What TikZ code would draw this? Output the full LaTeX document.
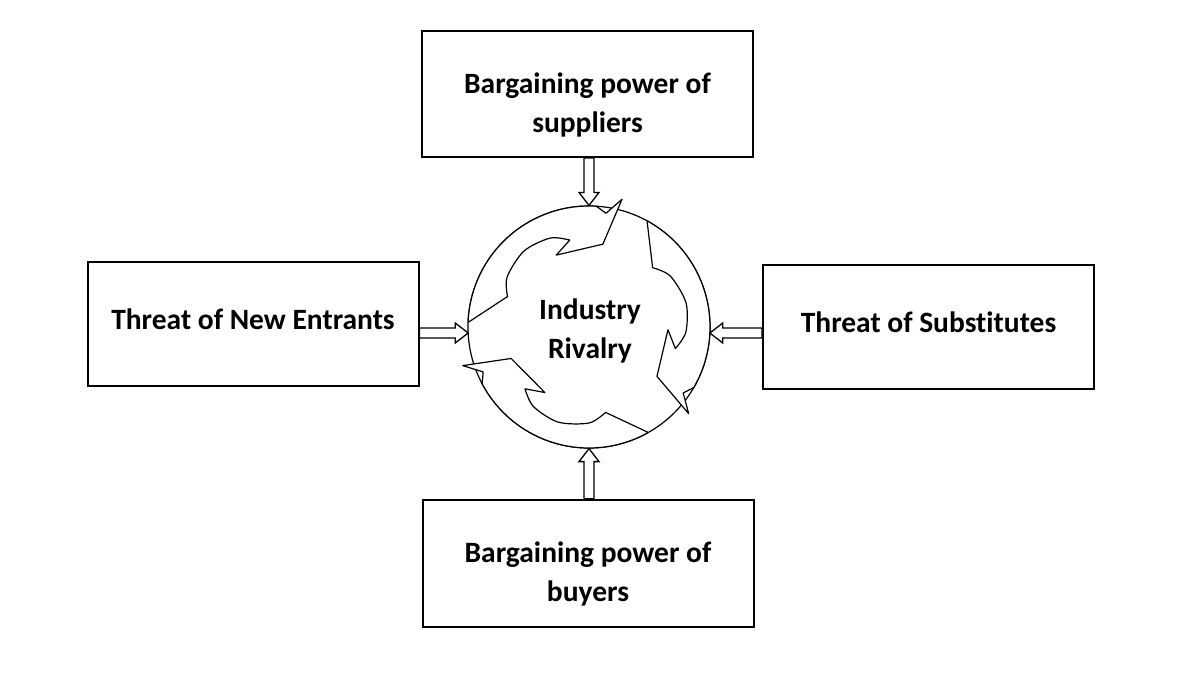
\documentclass[tikz,border=0pt]{standalone}
\usepackage{fontspec}
\setmainfont[Ligatures=NoCommon]{Carlito}
\usetikzlibrary{calc}
\tikzset{
  box/.style={draw, line width=2pt, minimum width=331pt, minimum height=125pt, inner sep=0pt},
  lbl/.style={font={\bfseries\fontsize{29.5}{39}\selectfont}, align=center, inner sep=0pt},
  blk/.style={draw, line width=1.3pt, fill=white, line join=miter},
  rivarr/.style={draw, fill=white, line width=1.2pt, line join=round},
  rivc/.style={circle, draw, line width=1.2pt, minimum size=242pt, inner sep=0pt}
}
\newcommand\blkarrow[2]{%
  \coordinate (bh) at ($(#2)!13pt!(#1)$);
  \draw[blk] ($(#1)!5pt!90:(#2)$) -- ($(bh)!5pt!90:(#2)$) -- ($(bh)!10pt!90:(#2)$)
    -- (#2) -- ($(bh)!10pt!-90:(#2)$) -- ($(bh)!5pt!-90:(#2)$) -- ($(#1)!5pt!-90:(#2)$) -- cycle;}
\newcommand\rivarrow[1]{%
  \filldraw[rivarr, shift={(riv.center)}] ({#1+181}:120) -- ({#1+199}:87)
    -- plot[smooth] coordinates {({#1+199}:87) ({#1+210}:96) ({#1+228}:100) ({#1+245}:97) ({#1+256}:89)}
    -- ({#1+244}:79) -- ({#1+278}:84) -- ({#1+283}:132) -- ({#1+277}:115) -- ({#1+272}:121)
    arc[start angle={#1+272}, end angle={#1+181}, radius=121] -- cycle;}
\begin{document}
\begin{tikzpicture}[x=1pt, y=-1pt]
  \useasboundingbox (0,0) rectangle (1199,680);
  % boxes
  \node[box, minimum height=126pt] (top) at (587.5,94) {};
  \node[box, minimum height=124pt] (left) at (253,324.2) {};
  \node[box, minimum height=124pt] (right) at (928.5,327) {};
  \node[box, minimum height=127pt] (bot) at (588,563.3) {};
  \node[lbl] (ttop) at ($(top.center)+(0,10.7)$) {Bargaining power of\\suppliers};
  \node[lbl] (tleft) at ($(left.center)+(0,-4.5)$) {Threat of New Entrants};
  \node[lbl] (tright) at ($(right.center)+(0,-4.5)$) {Threat of Substitutes};
  \node[lbl] (tbot) at ($(bot.center)+(0,10.4)$) {Bargaining power of\\buyers};
  % rivalry circle
  \node[rivc] (riv) at (589,327) {};
  \rivarrow{1.5}
  \rivarrow{118}
  \rivarrow{240}
  \node[lbl] (triv) at ($(riv.center)+(1,3.7)$) {Industry\\Rivalry};
  % block arrows
  \coordinate (lt) at ($(riv.center)+(-120.8,6)$);
  \coordinate (rt) at ($(riv.center)+(120.8,6)$);
  \coordinate (ls) at (left.east |- lt);
  \coordinate (rs) at (right.west |- rt);
  \coordinate (ts) at (riv.north |- top.south);
  \coordinate (bs) at (riv.south |- bot.north);
  \blkarrow{ts}{riv.north}
  \blkarrow{bs}{riv.south}
  \blkarrow{ls}{lt}
  \blkarrow{rs}{rt}
\end{tikzpicture}
\end{document}
